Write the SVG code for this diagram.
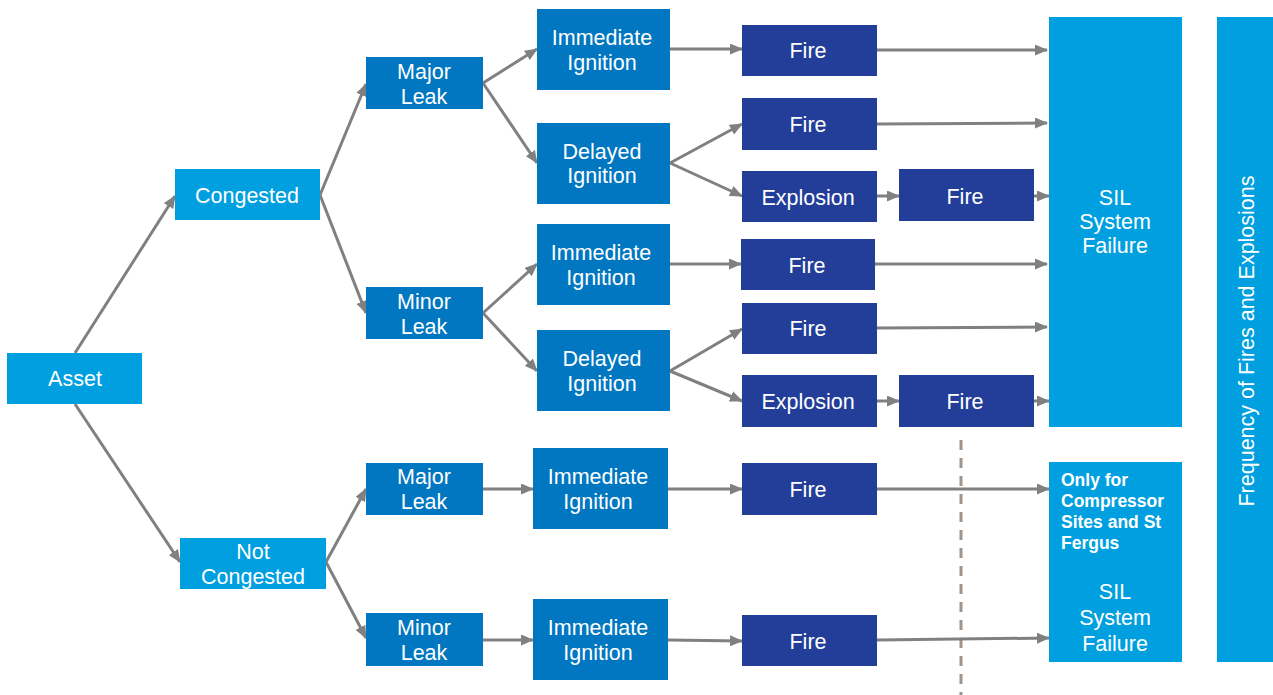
<svg xmlns="http://www.w3.org/2000/svg" width="1273" height="695" viewBox="0 0 1273 695">
<defs>
<marker id="ah" markerWidth="13" markerHeight="11" refX="12" refY="5.5" orient="auto" markerUnits="userSpaceOnUse">
<path d="M0,0 L13,5.5 L0,11 Z" fill="#808080"/>
</marker>
<style>
.l1{fill:#009FDF}
.l2{fill:#0077C0}
.l3{fill:#233E99}
text{font-family:"Liberation Sans",Arial,sans-serif;fill:#fff;font-size:21.5px;text-anchor:middle}
.c line{stroke:#808080;stroke-width:3;marker-end:url(#ah)}
.b{font-weight:bold;font-size:17.5px;text-anchor:start}
</style>
</defs>
<rect width="1273" height="695" fill="#fff"/>
<line x1="961" y1="440" x2="961" y2="695" stroke="#A0938A" stroke-width="3" stroke-dasharray="10,8"/>
<g class="c">
<line x1="75" y1="353" x2="175" y2="196"/>
<line x1="75" y1="404" x2="180" y2="562"/>
<line x1="320" y1="195" x2="366" y2="84"/>
<line x1="320" y1="195" x2="366" y2="313"/>
<line x1="326" y1="562" x2="366" y2="489"/>
<line x1="326" y1="562" x2="366" y2="638"/>
<line x1="483" y1="83" x2="537" y2="49"/>
<line x1="483" y1="83" x2="537" y2="163"/>
<line x1="483" y1="313" x2="537" y2="264"/>
<line x1="483" y1="313" x2="537" y2="371"/>
<line x1="483" y1="489" x2="533" y2="489"/>
<line x1="483" y1="640" x2="533" y2="640"/>
<line x1="670" y1="49" x2="742" y2="49"/>
<line x1="670" y1="163" x2="742" y2="124"/>
<line x1="670" y1="163" x2="742" y2="196"/>
<line x1="670" y1="264" x2="741" y2="264"/>
<line x1="670" y1="371" x2="742" y2="329"/>
<line x1="670" y1="371" x2="742" y2="401"/>
<line x1="668" y1="489" x2="742" y2="489"/>
<line x1="668" y1="640" x2="742" y2="641"/>
<line x1="877" y1="50" x2="1047" y2="50"/>
<line x1="877" y1="124" x2="1047" y2="123"/>
<line x1="877" y1="196" x2="899" y2="196"/>
<line x1="1034" y1="196" x2="1049" y2="196"/>
<line x1="875" y1="264" x2="1047" y2="264"/>
<line x1="877" y1="328" x2="1047" y2="327"/>
<line x1="877" y1="401" x2="899" y2="401"/>
<line x1="1034" y1="401" x2="1049" y2="401"/>
<line x1="877" y1="489" x2="1049" y2="489"/>
<line x1="877" y1="640" x2="1049" y2="638"/>
</g>
<g id="asset"><rect class="l1" x="7" y="353" width="135" height="51"/><text x="75" y="386">Asset</text></g>
<g id="congested"><rect class="l1" x="175" y="169" width="145" height="51"/><text x="247" y="203">Congested</text></g>
<g id="notcongested"><rect class="l1" x="180" y="538" width="146" height="51"/><text x="253" y="559">Not</text><text x="253" y="584">Congested</text></g>
<g id="major1"><rect class="l2" x="366" y="57" width="117" height="52"/><text x="424" y="79">Major</text><text x="424" y="104">Leak</text></g>
<g id="minor1"><rect class="l2" x="366" y="287" width="117" height="52"/><text x="424" y="309">Minor</text><text x="424" y="334">Leak</text></g>
<g id="major2"><rect class="l2" x="366" y="463" width="117" height="52"/><text x="424" y="484">Major</text><text x="424" y="509">Leak</text></g>
<g id="minor2"><rect class="l2" x="366" y="613" width="117" height="53"/><text x="424" y="635">Minor</text><text x="424" y="660">Leak</text></g>
<g id="imm1"><rect class="l2" x="537" y="9" width="133" height="81"/><text x="602" y="45">Immediate</text><text x="602" y="70">Ignition</text></g>
<g id="del1"><rect class="l2" x="537" y="123" width="133" height="81"/><text x="602" y="159">Delayed</text><text x="602" y="183">Ignition</text></g>
<g id="imm2"><rect class="l2" x="537" y="224" width="133" height="81"/><text x="601" y="260">Immediate</text><text x="601" y="285">Ignition</text></g>
<g id="del2"><rect class="l2" x="537" y="330" width="133" height="81"/><text x="602" y="366">Delayed</text><text x="602" y="391">Ignition</text></g>
<g id="imm3"><rect class="l2" x="533" y="448" width="135" height="81"/><text x="598" y="484">Immediate</text><text x="598" y="509">Ignition</text></g>
<g id="imm4"><rect class="l2" x="533" y="599" width="135" height="81"/><text x="598" y="635">Immediate</text><text x="598" y="660">Ignition</text></g>
<g id="fire1"><rect class="l3" x="742" y="25" width="135" height="51"/><text x="808" y="58">Fire</text></g>
<g id="fire2"><rect class="l3" x="742" y="98" width="135" height="52"/><text x="808" y="132">Fire</text></g>
<g id="expl1"><rect class="l3" x="742" y="171" width="135" height="51"/><text x="808" y="205">Explosion</text></g>
<g id="fire2b"><rect class="l3" x="899" y="169" width="135" height="52"/><text x="965" y="204">Fire</text></g>
<g id="fire3"><rect class="l3" x="741" y="239" width="134" height="51"/><text x="807" y="273">Fire</text></g>
<g id="fire4"><rect class="l3" x="742" y="303" width="135" height="51"/><text x="808" y="336">Fire</text></g>
<g id="expl2"><rect class="l3" x="742" y="375" width="135" height="52"/><text x="808" y="409">Explosion</text></g>
<g id="fire4b"><rect class="l3" x="899" y="375" width="135" height="52"/><text x="965" y="409">Fire</text></g>
<g id="fire5"><rect class="l3" x="742" y="463" width="135" height="52"/><text x="808" y="497">Fire</text></g>
<g id="fire6"><rect class="l3" x="742" y="615" width="135" height="51"/><text x="808" y="649">Fire</text></g>
<g id="sil1"><rect class="l1" x="1049" y="17" width="133" height="410"/><text x="1115" y="205">SIL</text><text x="1115" y="229">System</text><text x="1115" y="253">Failure</text></g>
<g id="sil2"><rect class="l1" x="1049" y="462" width="133" height="200"/>
<text class="b" x="1061" y="486">Only for</text><text class="b" x="1061" y="507">Compressor</text><text class="b" x="1061" y="528">Sites and St</text><text class="b" x="1061" y="549">Fergus</text>
<text x="1115" y="599">SIL</text><text x="1115" y="625">System</text><text x="1115" y="651">Failure</text></g>
<g id="freq"><rect class="l1" x="1217" y="17" width="56" height="645"/><text transform="translate(1254,341) rotate(-90)">Frequency of Fires and Explosions</text></g>
</svg>
